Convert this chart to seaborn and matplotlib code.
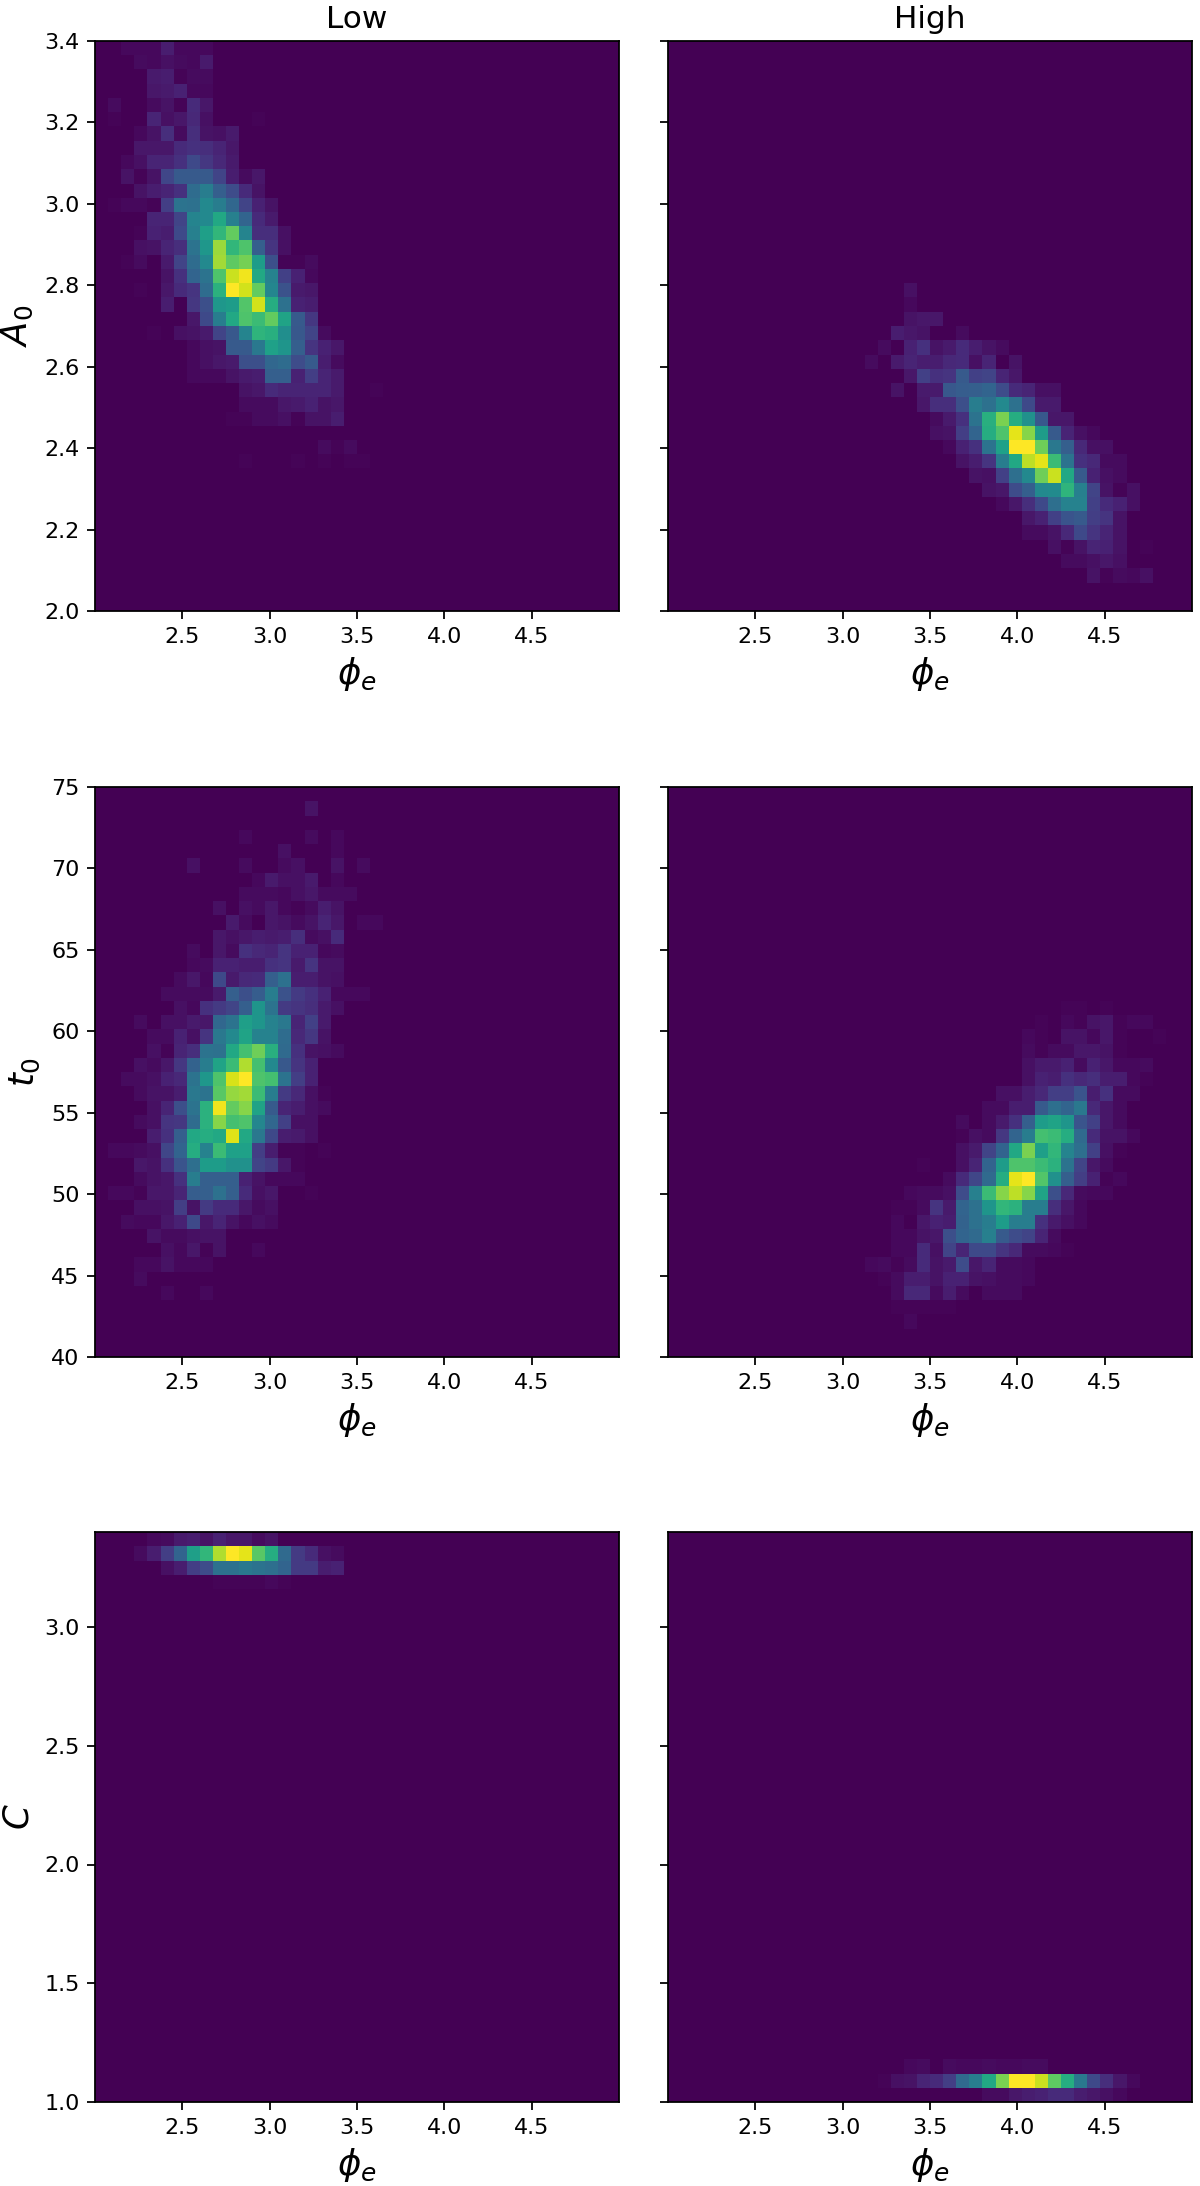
import numpy as np
import pandas as pd
import matplotlib
matplotlib.use("Agg")
import matplotlib.pyplot as plt
import seaborn as sns

# Each panel: {row counted from the top of the panel: (first column, [cell values])}, 40 x 40 bins
low_a0 = {
 0: (2, [2,2,2,8,2,2,2]),
 1: (3, [3,2,4,3,2,7]),
 2: (4, [7,8,1,3,3]),
 3: (4, [6,7,9,2,2]),
 4: (1, [3,0,0,3,5,1,12,6]),
 5: (1, [1,0,0,10,4,6,11,4,0,0,0,1]),
 6: (3, [2,5,13,3,13,5,4,7]),
 7: (3, [6,6,6,12,14,13,10,6]),
 8: (2, [2,4,10,10,14,22,16,11,7]),
 9: (2, [5,1,5,21,28,28,28,20,8,3,6]),
 10: (3, [5,8,10,14,35,42,30,23,12,5]),
 11: (1, [1,2,2,1,18,38,37,47,42,33,20,9,5]),
 12: (4, [10,10,20,45,47,60,43,32,12,7]),
 13: (3, [1,9,8,22,43,56,66,76,45,13,13,4]),
 14: (3, [4,5,10,13,38,53,85,66,72,30,15,4]),
 15: (2, [1,3,0,7,20,35,47,86,75,79,55,24,1,1,3]),
 16: (5, [5,14,32,38,72,92,98,60,44,19,9,2]),
 17: (3, [1,0,6,12,15,35,64,100,93,76,46,25,7,6]),
 18: (5, [8,0,16,24,53,55,73,93,62,37,9,8]),
 19: (7, [6,22,42,60,72,68,76,58,28,16]),
 20: (4, [1,0,4,5,7,20,27,45,65,63,49,27,20,3]),
 21: (7, [2,4,5,28,28,40,57,52,30,15,9,6]),
 22: (7, [2,4,6,7,24,24,33,35,23,28,8,3]),
 23: (7, [2,2,2,5,7,8,30,30,9,18,10,7]),
 24: (11, [5,6,12,10,10,10,10,7,0,0,1]),
 25: (11, [3,3,3,6,7,9,5,6]),
 26: (10, [1,1,3,3,4,1,5,5,8]),
 28: (17, [3,1,3]),
 29: (11, [1,0,0,0,1,0,1,0,1,1]),
}
high_a0 = {
 17: (18, [4]),
 18: (18, [2]),
 19: (18, [5,6,6]),
 20: (17, [8,6,5,0,0,3]),
 21: (16, [3,0,9,14,5,7,12,8,5,3]),
 22: (15, [3,0,7,10,8,8,11,12,4,10,0,5]),
 23: (18, [6,19,14,15,28,19,20,10,6]),
 24: (17, [5,0,7,7,27,29,30,32,23,12,10,4,4]),
 25: (19, [6,13,13,24,42,37,47,37,22,7,7]),
 26: (20, [3,7,14,38,63,80,62,50,27,6,6]),
 27: (20, [4,5,18,32,62,72,96,82,55,28,10,4,2]),
 28: (21, [2,9,14,38,57,100,100,78,40,30,11,4,4]),
 29: (22, [5,8,15,42,60,90,96,68,38,14,11,3,3]),
 30: (23, [5,4,19,36,47,78,92,60,28,9,4,3]),
 31: (24, [5,6,23,30,47,48,65,43,20,5,1,4]),
 32: (25, [2,6,13,22,36,44,44,19,12,9,4]),
 33: (27, [6,9,19,26,28,18,15,5]),
 34: (27, [3,3,5,11,22,15,10,5]),
 35: (29, [4,1,5,10,9,5,0,1]),
 36: (30, [3,3,4,6,4]),
 37: (32, [5,1,3,2,4]),
}
low_t0 = {
 1: (16, [5]),
 3: (11, [2,0,0,0,0,3,0,2]),
 4: (14, [4,0,0,0,2]),
 5: (7, [4,0,0,0,3,0,0,3,4,0,0,5,0,3]),
 6: (12, [2,7,4,4,7,0,2]),
 7: (11, [3,3,3,2,4,6,3,3,3]),
 8: (9, [4,0,4,3,6,2,1,3,8,5]),
 9: (10, [7,3,0,6,5,3,5,10,6,0,2,2]),
 10: (9, [6,4,6,8,7,8,13,3,4,12]),
 11: (7, [3,0,6,3,14,11,10,15,9,9,2,3]),
 12: (7, [2,3,9,9,8,8,14,15,7,15,5,5]),
 13: (6, [3,6,2,22,7,11,12,30,37,8,8,5,4]),
 14: (5, [3,3,3,3,7,30,24,29,42,25,17,14,9,2,2,2]),
 15: (6, [4,2,14,17,20,30,52,38,17,15,13,7,4]),
 16: (3, [3,0,4,4,7,6,33,38,56,52,44,40,10,19,7]),
 17: (4, [3,3,9,4,15,40,47,58,44,44,35,11,16,5]),
 18: (4, [4,1,10,13,38,37,60,70,78,63,34,14,5,4,3]),
 19: (3, [4,3,6,16,31,42,58,68,88,70,47,27,15,9]),
 20: (2, [3,3,4,9,11,38,53,72,94,100,72,70,38,18,9]),
 21: (3, [3,5,5,8,40,38,74,84,86,68,42,17,11,4,1]),
 22: (4, [4,10,24,38,64,98,76,82,58,28,10,8,4,3]),
 23: (3, [3,4,15,16,35,64,82,70,72,46,33,19,4,4]),
 24: (4, [8,14,30,60,62,60,95,60,40,22,8,7,4]),
 25: (1, [2,2,3,4,21,32,62,44,68,57,57,18,8,1,1,0,1]),
 26: (3, [6,5,14,26,36,55,55,50,50,20,17,6,1]),
 27: (3, [3,5,6,14,42,30,30,30,9,5,2,2,2]),
 28: (1, [2,2,1,6,6,10,29,30,37,30,12,4,6,0,0,1]),
 29: (3, [4,4,5,18,5,17,12,12,6,3,4]),
 30: (2, [3,2,2,6,9,22,6,10,5,2,4,3]),
 31: (4, [5,3,3,4,5,5]),
 32: (5, [4,2,6,1,5,0,0,2]),
 33: (3, [2,2,5,2,2,2]),
 34: (3, [3]),
 35: (5, [2,0,0,2]),
}
high_t0 = {
 15: (30, [1,1,0,1]),
 16: (28, [1,0,2,1,5,6,1,2,2]),
 17: (27, [2,1,0,5,5,2,6,1,0,0,1]),
 18: (27, [3,1,3,3,6,6,5,1]),
 19: (27, [4,7,7,9,3,9,6,2,2,3]),
 20: (27, [4,9,8,14,11,13,8,8,2,1]),
 21: (25, [4,4,8,11,18,18,26,8,14,3,3]),
 22: (24, [3,3,8,8,28,36,32,40,11,6,3]),
 23: (22, [3,0,3,7,14,30,55,58,52,26,19,6,3]),
 24: (22, [1,4,3,16,32,42,70,68,62,34,12,5,5,2]),
 25: (22, [4,7,20,32,60,80,56,66,45,36,19,4,1]),
 26: (19, [1,0,0,4,10,32,55,72,72,68,64,38,20,6,3]),
 27: (21, [3,12,21,34,62,96,100,73,50,30,18,9,1,2]),
 28: (18, [2,3,3,4,23,43,68,82,90,82,58,24,11,3,2,2]),
 29: (17, [1,1,3,15,7,32,37,52,66,64,42,42,13,6,2]),
 30: (17, [2,0,6,9,8,31,37,42,55,42,42,14,7,4,2]),
 31: (17, [2,2,5,6,24,32,34,43,28,23,20,10,3]),
 32: (17, [2,2,12,4,20,10,22,22,15,11,3,3,2,1]),
 33: (15, [2,3,1,3,12,5,7,23,6,10,3,3,2]),
 34: (16, [1,3,8,8,5,9,9,5,4,3,3,2]),
 35: (17, [3,11,11,3,8,3,0,3,3,3]),
 36: (17, [1,1,1,1,1]),
 37: (18, [2]),
}
low_c = {
 0: (4, [2,3,7,8,5,9,6,6,3,5]),
 1: (3, [3,8,18,32,56,66,88,100,96,74,62,34,17,12,4,3]),
 2: (5, [4,8,18,23,37,37,40,38,36,32,17,17,8,9]),
 3: (9, [1,1,1,1,2,1]),
}
high_c = {
 37: (18, [2,3,0,3,2,2,3,2,2,3,3]),
 38: (16, [1,4,5,10,12,18,34,42,60,80,100,100,92,75,62,40,22,13,6,2]),
 39: (24, [3,3,6,8,9,12,12,8,6,4,2]),
}

phi_range = (2.0, 5.0)
a0_range = (2.0, 3.4)
t0_range = (40.0, 75.0)
c_range = (1.0, 3.4)
a0_ticks = [2.0, 2.2, 2.4, 2.6, 2.8, 3.0, 3.2, 3.4]
t0_ticks = [40, 45, 50, 55, 60, 65, 70, 75]
c_ticks = [1.0, 1.5, 2.0, 2.5, 3.0]
phi_ticks = [2.5, 3.0, 3.5, 4.0, 4.5]
col_titles = ["Low", "High"]
row_labels = [r"$A_0$", r"$t_0$", r"$C$"]
x_label = r"$\phi_e$"
N_BINS = 40


def to_frame(cells, y_range):
    grid = np.zeros((N_BINS, N_BINS))
    for row, (first, values) in cells.items():
        grid[row, first:first + len(values)] = values
    x_edges = np.linspace(*phi_range, N_BINS + 1)
    y_edges = np.linspace(*y_range, N_BINS + 1)
    x_mid = (x_edges[:-1] + x_edges[1:]) / 2
    y_mid = ((y_edges[:-1] + y_edges[1:]) / 2)[::-1]
    xx, yy = np.meshgrid(x_mid, y_mid)
    return pd.DataFrame({"phi": xx.ravel(), "y": yy.ravel(), "n": grid.ravel()})


W, H = 1200, 2186
fig = plt.figure(figsize=(W / 160, H / 160), dpi=160)
lefts = [95, 668]
tops = [41, 787, 1532]
aw, ah = 524, 570
panels = [
    [(low_a0, a0_range, a0_ticks), (high_a0, a0_range, a0_ticks)],
    [(low_t0, t0_range, t0_ticks), (high_t0, t0_range, t0_ticks)],
    [(low_c, c_range, c_ticks), (high_c, c_range, c_ticks)],
]
for i, row in enumerate(panels):
    for j, (cells, y_range, y_ticks) in enumerate(row):
        ax = fig.add_axes([lefts[j] / W, 1 - (tops[i] + ah) / H, aw / W, ah / H])
        sns.histplot(data=to_frame(cells, y_range), x="phi", y="y", weights="n",
                     bins=N_BINS, binrange=(phi_range, y_range),
                     cmap="viridis", thresh=None, ax=ax)
        ax.set_xlim(*phi_range)
        ax.set_ylim(*y_range)
        ax.set_xticks(phi_ticks)
        ax.set_yticks(y_ticks)
        ax.set_xlabel(x_label, fontsize=16)
        if j == 0:
            ax.set_ylabel(row_labels[i], fontsize=16)
        else:
            ax.set_ylabel("")
            ax.set_yticklabels([])
        if i == 0:
            ax.set_title(col_titles[j], fontsize=14)

fig.savefig("out.png", dpi=160)
